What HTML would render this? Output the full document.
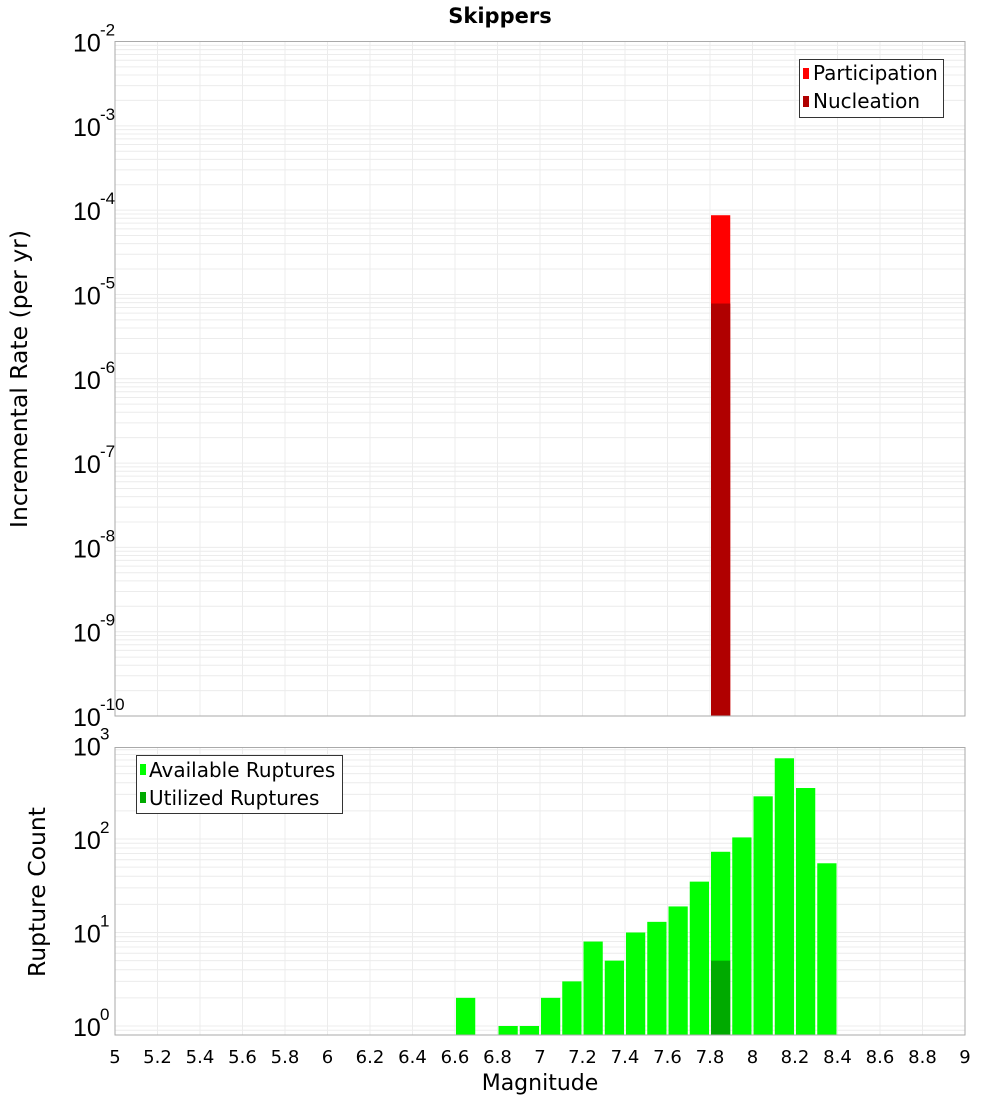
<!DOCTYPE html>
<html><head><meta charset="utf-8"><style>
body{margin:0;background:#fff;}
svg{display:block;font-family:"Liberation Sans","DejaVu Sans",sans-serif;}
</style></head><body>
<svg id="chart" width="1000" height="1100" viewBox="0 0 1000 1100" xmlns="http://www.w3.org/2000/svg">
<text x="500" y="23" text-anchor="middle" font-size="21" font-weight="bold" font-family="DejaVu Sans, sans-serif">Skippers</text>
<g id="top"></g>
<g id="bot"></g>
<text transform="translate(27,379) rotate(-90)" text-anchor="middle" font-size="23.5" font-family="DejaVu Sans, sans-serif">Incremental Rate (per yr)</text>
<text transform="translate(45,892) rotate(-90)" text-anchor="middle" font-size="23.5" font-family="DejaVu Sans, sans-serif">Rupture Count</text>
<text x="540" y="1090" text-anchor="middle" font-size="22" font-family="DejaVu Sans, sans-serif">Magnitude</text>
</svg>
<script>
const xTicks = [5,5.2,5.4,5.6,5.8,6,6.2,6.4,6.6,6.8,7,7.2,7.4,7.6,7.8,8,8.2,8.4,8.6,8.8,9];
const rateMags = [7.85];
const participation = [8.7e-5];
const nucleation = [7.8e-6];
const countMags = [6.65,6.85,6.95,7.05,7.15,7.25,7.35,7.45,7.55,7.65,7.75,7.85,7.95,8.05,8.15,8.25,8.35];
const available = [2,1,1,2,3,8,5,10,13,19,35,73,104,286,730,351,55];
const utilizedMags = [7.85];
const utilized = [5];
const topExps = [-2,-3,-4,-5,-6,-7,-8,-9,-10];
const botExps = [3,2,1,0];

const NS="http://www.w3.org/2000/svg";
const L=115,R=965;
const x=v=>L+(v-5)/4*(R-L);
const T0=41.5,T1=716, yTop=v=>T0+(-2-Math.log10(v))/8*(T1-T0);
const B0=747.5,B1=1035, yBot=v=>1026-Math.log10(v)*93.5;
function mk(p,tag,a){const e=document.createElementNS(NS,tag);for(const k in a)e.setAttribute(k,a[k]);p.appendChild(e);return e;}

function grid(g,y0,y1,yf,lo,hi){
  for(let d=lo;d<=hi;d++)for(let m=1;m<10;m++){const v=m*Math.pow(10,d);const yy=yf(v);if(yy<y0-0.5||yy>y1+0.5)continue;
    const l=mk(g,'line',{x1:L,x2:R,y1:yy,y2:yy,stroke:'#ececec','stroke-width':1});
    
    }
  xTicks.forEach(t=>{const l=mk(g,'line',{x1:x(t),x2:x(t),y1:y0,y2:y1,stroke:'#ececec','stroke-width':1});
    
    });
}
function ylabel(g,yy,e){
  const t=mk(g,'text',{x:73,y:yy+10,'font-size':25,fill:'#000'});
  
  
  t.textContent='10';
  const s=mk(g,'text',{x:100,y:yy-6,'font-size':17,fill:'#000'});
  
  
  s.textContent=String(e);
}
const gt=document.getElementById('top');
grid(gt,T0,T1,yTop,-10,-3);
rateMags.forEach((m,i)=>{
  const p=mk(gt,'rect',{x:x(m-0.05)+1,y:yTop(participation[i]),width:x(m+0.05)-x(m-0.05)-2,height:T1-yTop(participation[i]),fill:'#ff0000'});
  
  
  const n=mk(gt,'rect',{x:x(m-0.05)+1,y:yTop(nucleation[i]),width:x(m+0.05)-x(m-0.05)-2,height:T1-yTop(nucleation[i]),fill:'#b00000'});
  
  
});
const fr=mk(gt,'rect',{x:L,y:T0,width:R-L,height:T1-T0,fill:'none',stroke:'#aaa','stroke-width':1});


topExps.forEach(e=>ylabel(gt,yTop(Math.pow(10,e)),e));
const lg=mk(gt,'g',{});


mk(lg,'rect',{x:799.5,y:59.5,width:144,height:58,fill:'#fff',stroke:'#333'});
mk(lg,'rect',{x:803,y:68,width:6,height:11,fill:'#ff0000'});
mk(lg,'rect',{x:803,y:96,width:6,height:11,fill:'#b00000'});
let t1=mk(lg,'text',{x:813,y:80,'font-size':20,'font-family':'DejaVu Sans, sans-serif'});t1.textContent='Participation';


let t2=mk(lg,'text',{x:813,y:108,'font-size':20,'font-family':'DejaVu Sans, sans-serif'});t2.textContent='Nucleation';



const gb=document.getElementById('bot');
grid(gb,B0,B1,yBot,-1,2);
countMags.forEach((m,i)=>{
  const yy=yBot(available[i]);
  const r=mk(gb,'rect',{x:x(m-0.05)+1,y:yy,width:x(m+0.05)-x(m-0.05)-2,height:B1-yy,fill:'#00ff00'});
  
  
});
utilizedMags.forEach((m,i)=>{
  const yy=yBot(utilized[i]);
  const r=mk(gb,'rect',{x:x(m-0.05)+1,y:yy,width:x(m+0.05)-x(m-0.05)-2,height:B1-yy,fill:'#00aa00'});
  
  
});
const fb=mk(gb,'rect',{x:L,y:B0,width:R-L,height:B1-B0,fill:'none',stroke:'#aaa','stroke-width':1});


botExps.forEach(e=>ylabel(gb,yBot(Math.pow(10,e)),e));
xTicks.forEach(t=>{const s=mk(gb,'text',{x:x(t),y:1063,'font-size':18,'text-anchor':'middle','font-family':'DejaVu Sans, sans-serif'});
  
  
  s.textContent=String(t);});
const lb=mk(gb,'g',{});


mk(lb,'rect',{x:136.5,y:755.5,width:206,height:58,fill:'#fff',stroke:'#333'});
mk(lb,'rect',{x:140,y:764,width:6,height:11,fill:'#00ff00'});
mk(lb,'rect',{x:140,y:792,width:6,height:11,fill:'#00aa00'});
let t3=mk(lb,'text',{x:149,y:777,'font-size':20,'font-family':'DejaVu Sans, sans-serif'});t3.textContent='Available Ruptures';


let t4=mk(lb,'text',{x:149,y:805,'font-size':20,'font-family':'DejaVu Sans, sans-serif'});t4.textContent='Utilized Ruptures';


</script>
</body></html>
